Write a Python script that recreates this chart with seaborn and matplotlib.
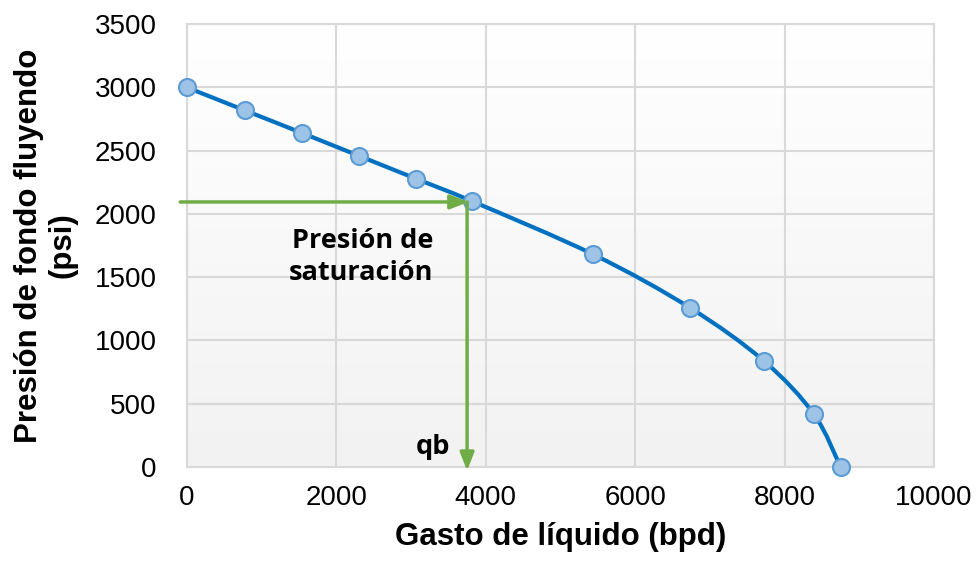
import numpy as np
import pandas as pd
import seaborn as sns
import matplotlib.pyplot as plt
from matplotlib.path import Path
from matplotlib.patches import PathPatch

# IPR curve data
gasto = [0, 770, 1540, 2300, 3060, 3820, 5440, 6730, 7720, 8390, 8750]
presion = [3000, 2820, 2640, 2460, 2280, 2100, 1680, 1260, 840, 420, 0]

# saturation pressure marker
qb = 3750
pb = 2095

x_ticks = [0, 2000, 4000, 6000, 8000, 10000]
y_ticks = [0, 500, 1000, 1500, 2000, 2500, 3000, 3500]

sns.set_theme(style="white")
plt.rcParams['font.family'] = ['Liberation Sans', 'DejaVu Sans']
plt.rcParams['text.color'] = 'black'
plt.rcParams['axes.labelcolor'] = 'black'

df = pd.DataFrame({"gasto": gasto, "presion": presion})

fig = plt.figure(figsize=(9.79, 5.63), dpi=100)
ax = fig.add_axes([0.191, 0.1705, 0.763, 0.7865])

# gradient background of the plot area
grad = np.linspace(0, 1, 256).reshape(-1, 1)
ax.imshow(grad, extent=[0, 1, 0, 1], transform=ax.transAxes, aspect="auto",
          cmap=plt.matplotlib.colors.LinearSegmentedColormap.from_list("bg", ["#F2F2F2", "#FFFFFF"]),
          origin="lower", zorder=0)

# smooth line (Catmull-Rom -> cubic bezier, like Excel's smoothed line)
pts = df[["gasto", "presion"]].to_numpy(dtype=float)
verts = [pts[0]]
codes = [Path.MOVETO]
t = 1 / 6
for i in range(len(pts) - 1):
    p0 = pts[i - 1] if i > 0 else pts[i]
    p1, p2 = pts[i], pts[i + 1]
    p3 = pts[i + 2] if i + 2 < len(pts) else pts[i + 1]
    verts += [p1 + (p2 - p0) * t, p2 - (p3 - p1) * t, p2]
    codes += [Path.CURVE4] * 3
ax.add_patch(PathPatch(Path(verts, codes), facecolor="none", edgecolor="#0070C0",
                       lw=3, zorder=3, capstyle="round"))

sns.scatterplot(data=df, x="gasto", y="presion", ax=ax, s=150, color="#9DC3E6",
                edgecolor="#5B9BD5", linewidth=1.5, zorder=4, clip_on=False)

# saturation arrows
ax.annotate("", xy=(qb + 20, pb), xytext=(-90, pb),
            arrowprops=dict(arrowstyle="-|>,head_length=0.9,head_width=0.35",
                            color="#70AD47", lw=2.5, shrinkA=0, shrinkB=0),
            annotation_clip=False, zorder=5)
ax.annotate("", xy=(qb, -30), xytext=(qb, pb),
            arrowprops=dict(arrowstyle="-|>,head_length=0.9,head_width=0.35",
                            color="#70AD47", lw=2.5, shrinkA=0, shrinkB=0),
            annotation_clip=False, zorder=5)

ax.text(3300, 1660, "Presión de\nsaturación", ha="right", va="center",
        fontsize=19.5, fontweight="bold", family=["Open Sans", "DejaVu Sans"],
        linespacing=1.3, zorder=6)
ax.text(3530, 160, "qb", ha="right", va="center", fontsize=19.5,
        fontweight="bold", family=["Open Sans", "DejaVu Sans"], zorder=6)

ax.set_xlim(0, 10000)
ax.set_ylim(0, 3500)
ax.set_xticks(x_ticks)
ax.set_yticks(y_ticks)
ax.grid(True, color="#D9D9D9", lw=1.5, zorder=1)
ax.set_axisbelow(True)
for s in ax.spines.values():
    s.set_color("#D9D9D9")
    s.set_linewidth(1.5)
ax.tick_params(axis="both", labelsize=20, length=0, colors="black")
ax.tick_params(axis="x", pad=13)
ax.tick_params(axis="y", pad=22)

ax.set_xlabel("Gasto de líquido (bpd)", fontsize=22.5, fontweight="bold", labelpad=8)
ax.set_ylabel("Presión de fondo fluyendo\n(psi)", fontsize=22.5, fontweight="bold",
              labelpad=12, linespacing=1.15)

fig.savefig("out.png", dpi=100)
